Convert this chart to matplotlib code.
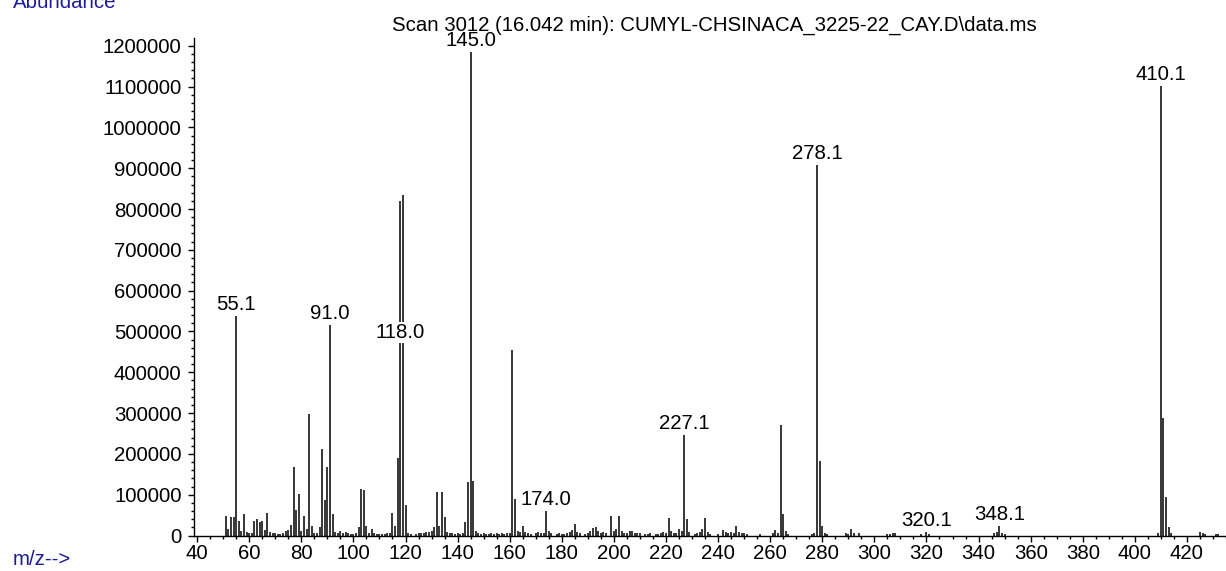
import matplotlib
matplotlib.use("Agg")
import matplotlib.pyplot as plt
from matplotlib.ticker import MultipleLocator

# ---- data (m/z, abundance) ----
mz = [51, 52, 53, 54, 55, 56, 57, 58, 59, 60, 61, 62, 63, 64, 65, 66, 67, 68, 69, 70,
      71, 72, 73, 74, 75, 76, 77, 78, 79, 80, 81, 82, 83, 84, 85, 86, 87, 88, 89, 90,
      91, 92, 93, 94, 95, 96, 97, 98, 99, 100, 101, 102, 103, 104, 105, 106, 107, 108,
      109, 110, 111, 112, 113, 114, 115, 116, 117, 118, 119, 120, 121, 122, 124, 125,
      126, 127, 128, 129, 130, 131, 132, 133, 134, 135, 136, 137, 138, 139, 140, 141,
      142, 143, 144, 145, 146, 147, 148, 149, 150, 151, 152, 153, 154, 155, 156, 157,
      158, 159, 160, 161, 162, 163, 164, 165, 166, 167, 168, 170, 171, 172, 173, 174,
      175, 176, 178, 179, 180, 181, 182, 183, 184, 185, 186, 187, 189, 190, 191, 192,
      193, 194, 195, 196, 197, 199, 200, 201, 202, 203, 204, 205, 206, 207, 208, 209,
      210, 212, 213, 214, 216, 217, 218, 219, 220, 221, 222, 223, 224, 225, 226, 227,
      228, 229, 231, 232, 233, 234, 235, 236, 237, 240, 242, 243, 244, 245, 246, 247,
      248, 249, 250, 251, 256, 261, 262, 263, 264, 265, 266, 267, 276, 277, 278, 279,
      280, 281, 282, 289, 290, 291, 292, 294, 305, 306, 307, 308, 318, 320, 321, 346,
      347, 348, 349, 350, 409, 410, 411, 412, 413, 414, 425, 426, 427, 431, 432]
abundance = [48000, 17000, 45000, 45000, 538000, 36000, 10000, 52000, 8000, 5000, 6000,
             36000, 40000, 33000, 36000, 13000, 56000, 8000, 5000, 5000,
             4000, 3000, 6000, 10000, 13000, 26000, 168000, 62000, 102000, 10000,
             48000, 15000, 298000, 24000, 5000, 5000, 20000, 211000, 87000, 168000,
             516000, 52000, 8000, 6000, 12000, 5000, 9000, 6000, 4000, 3000, 6000,
             20000, 114000, 111000, 24000, 5000, 15000, 5000,
             4000, 3000, 3000, 3000, 5000, 7000, 56000, 24000, 189000, 820000, 834000,
             75000, 6000, 3000, 3000, 5000,
             5000, 6000, 8000, 8000, 12000, 20000, 107000, 24000, 107000, 45000, 9000,
             5000, 5000, 4000, 5000, 4000,
             5000, 33000, 130000, 1185000, 134000, 12000, 5000, 4000, 5000, 4000, 4000,
             5000, 4000, 5000, 4000, 7000,
             4000, 5000, 6000, 455000, 90000, 12000, 8000, 24000, 8000, 5000, 4000,
             6000, 8000, 5000, 5000, 59000,
             10000, 5000, 4000, 5000, 4000, 3000, 5000, 8000, 13000, 27000, 8000, 5000,
             4000, 5000, 10000, 18000,
             20000, 12000, 6000, 8000, 5000, 48000, 10000, 15000, 48000, 12000, 6000,
             5000, 10000, 12000, 6000, 5000,
             5000, 4000, 4000, 5000, 4000, 4000, 5000, 8000, 5000, 44000, 10000, 5000,
             6000, 15000, 10000, 246000,
             40000, 8000, 4000, 6000, 8000, 15000, 44000, 8000, 4000, 4000, 14000, 8000,
             6000, 8000, 5000, 23000,
             8000, 5000, 5000, 4000, 3000, 5000, 14000, 5000, 271000, 52000, 12000, 4000,
             4000, 5000, 908000, 183000,
             23000, 5000, 3000, 5000, 4000, 16000, 5000, 5000, 4000, 3000, 5000, 5000,
             3000, 8000, 4000, 5000,
             8000, 23000, 6000, 3000, 7000, 1101000, 287000, 95000, 22000, 5000, 8000,
             5000, 3000, 3000, 3000]

label_mz = [55, 91, 118, 145, 174, 227, 278, 320, 348, 410]
label_text = ["55.1", "91.0", "118.0", "145.0", "174.0", "227.1", "278.1", "320.1",
              "348.1", "410.1"]
label_y = [538000, 516000, 470000, 1185000, 59000, 246000, 908000, 8000, 23000, 1101000]

x_ticks = list(range(40, 421, 20))
y_ticks = list(range(0, 1200001, 100000))

title = "Scan 3012 (16.042 min): CUMYL-CHSINACA_3225-22_CAY.D\\data.ms"

# ---- figure ----
W, H = 1226, 571
fig = plt.figure(figsize=(W / 100, H / 100), dpi=100)
fig.patch.set_facecolor("white")
FONT = ["Liberation Sans", "DejaVu Sans"]
FS = 14.7

ax_left, ax_right, ax_bottom, ax_top = 194, 1226, 535.5, 38
ax = fig.add_axes([ax_left / W, (H - ax_bottom) / H,
                   (ax_right - ax_left) / W, (ax_bottom - ax_top) / H])

ax.vlines(mz, 0, abundance, color="black", linewidth=1.1)

for t, x, y in zip(label_text, label_mz, label_y):
    ax.annotate(t, xy=(x, y), xytext=(0, 1.5), textcoords="offset points",
                ha="center", va="bottom", fontsize=FS, family=FONT, color="black",
                bbox=dict(facecolor="white", edgecolor="none", pad=0.8), zorder=5)

ax.set_xlim(38.8, 435.0)
ax.set_ylim(0, 1219000)

ax.spines["top"].set_visible(False)
ax.spines["right"].set_visible(False)
for s in ("left", "bottom"):
    ax.spines[s].set_linewidth(1.0)
    ax.spines[s].set_color("black")

ax.xaxis.set_minor_locator(MultipleLocator(5))
ax.yaxis.set_minor_locator(MultipleLocator(20000))
ax.set_xticks(x_ticks)
ax.set_xticklabels([str(v) for v in x_ticks])
ax.set_yticks(y_ticks)
ax.set_yticklabels([str(v) for v in y_ticks])

ax.tick_params(axis="both", which="major", direction="out", length=4.5, width=1.0,
               labelsize=FS, color="black")
ax.tick_params(axis="x", which="major", pad=1.5)
ax.tick_params(axis="y", which="major", pad=4.5)
ax.tick_params(axis="both", which="minor", direction="out", length=2.5, width=1.0,
               color="black")
for lab in ax.get_xticklabels() + ax.get_yticklabels():
    lab.set_family(FONT)

fig.text(714.5 / W, 1 - 25 / H, title, ha="center", va="center", fontsize=FS,
         family=FONT, color="black", zorder=1)
fig.text(13 / W, 1 - 8 / H, "Abundance", ha="left", va="baseline", fontsize=FS,
         family=FONT, color="#1c1c9c")
fig.text(13 / W, 1 - 565 / H, "m/z-->", ha="left", va="baseline", fontsize=FS,
         family=FONT, color="#1c1c9c")

fig.savefig("out.png", dpi=100, facecolor="white")
